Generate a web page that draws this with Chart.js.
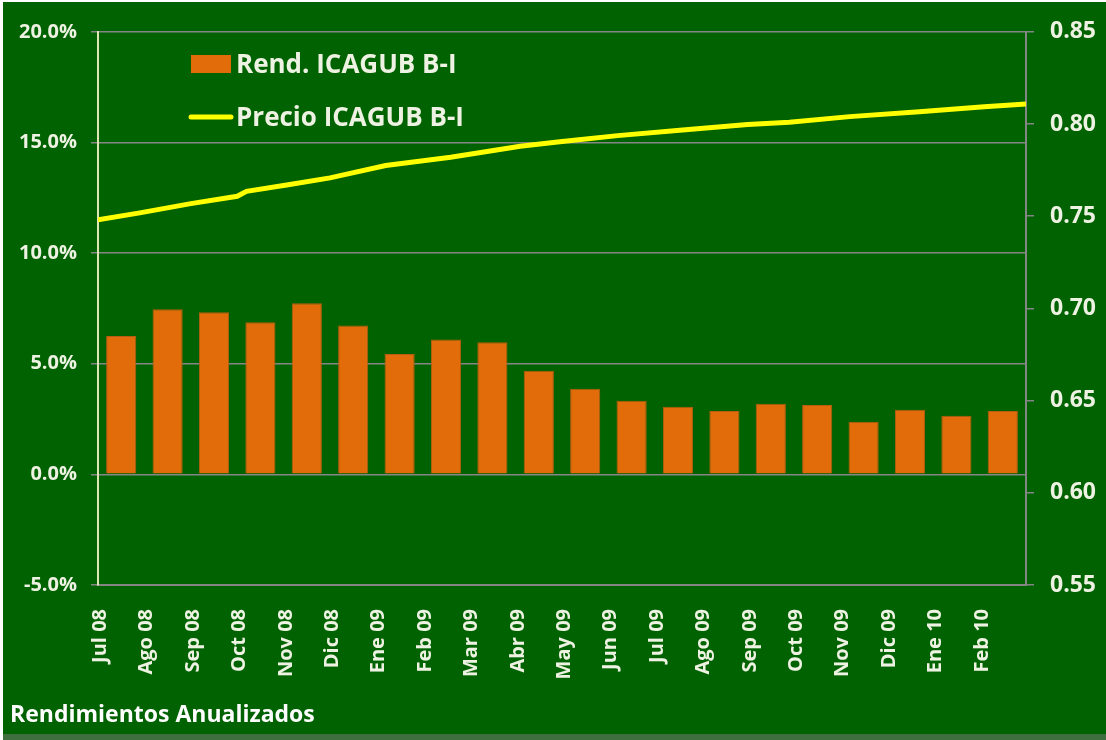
<!DOCTYPE html>
<html>
<head>
<meta charset="utf-8">
<script src="https://cdn.jsdelivr.net/npm/chart.js@4"></script>
<style>
  html, body { margin: 0; padding: 0; background: #ffffff; }
  #frame {
    position: absolute; left: 3px; top: 2px;
    width: 1103px; height: 732px;
    background: #006200;
  }
  #strip {
    position: absolute; left: 3px; top: 734px;
    width: 1103px; height: 6px;
    background: #3f6e3f;
  }
</style>
</head>
<body>
<div id="frame"><canvas id="chart"></canvas></div>
<div id="strip"></div>
<script>
const months = [
  "Jul 08", "Ago 08", "Sep 08", "Oct 08", "Nov 08", "Dic 08", "Ene 09",
  "Feb 09", "Mar 09", "Abr 09", "May 09", "Jun 09", "Jul 09", "Ago 09",
  "Sep 09", "Oct 09", "Nov 09", "Dic 09", "Ene 10", "Feb 10",
];
// annualized yield, %
const rendimiento = [
  6.25, 7.46, 7.33, 6.87, 7.73, 6.73, 5.44, 6.1, 5.97, 4.68,
  3.87, 3.33, 3.06, 2.86, 3.19, 3.13, 2.38, 2.92, 2.65, 2.86,
];
// price series, position in months from start of Jul 08
const precioX = [0, 0.9, 2.0, 3.0, 3.2, 4.1, 5.0, 6.2, 7.6, 9.1, 10.0, 11.2, 12.6, 14.0, 14.9, 16.2, 17.7, 19.1, 20];
const precioY = [
  0.748, 0.7518, 0.7568, 0.7608, 0.7635, 0.7671, 0.7708, 0.7775, 0.782, 0.7879,
  0.7905, 0.7937, 0.7967, 0.7997, 0.8009, 0.804, 0.8067, 0.8094, 0.8108,
];
const leftTicks = [-5, 0, 5, 10, 15, 20];
const rightTicks = [0.55, 0.6, 0.65, 0.7, 0.75, 0.8, 0.85];
const chartTitle = "Rendimientos Anualizados";

const FONT = "'Open Sans', 'DejaVu Sans', sans-serif";
const TEXT = "#eef2e2";
const GRID = "#858585";
const ORANGE = "#e36c0a";
const YELLOW = "#ffff00";

// legend inside the plot (two rows) and the caption at the bottom left
const insideLegend = {
  id: "insideLegend",
  afterDatasetsDraw(chart) {
    const ctx = chart.ctx;
    const ds = chart.data.datasets;
    ctx.save();
    ctx.font = `bold 26px ${FONT}`;
    ctx.textBaseline = "alphabetic";
    ctx.textAlign = "left";

    ctx.fillStyle = ds[0].backgroundColor;
    ctx.fillRect(188, 53, 40, 18);
    ctx.fillStyle = TEXT;
    ctx.fillText(ds[0].label, 233, 71);

    ctx.strokeStyle = ds[1].borderColor;
    ctx.lineWidth = 5;
    ctx.lineCap = "round";
    ctx.beginPath();
    ctx.moveTo(188, 115);
    ctx.lineTo(228, 115);
    ctx.stroke();
    ctx.fillText(ds[1].label, 233, 124);

    ctx.font = `bold 23px ${FONT}`;
    ctx.fillStyle = "#ffffff";
    ctx.fillText(chartTitle, 7, 720);
    ctx.restore();
  },
};

new Chart(document.getElementById("chart"), {
  data: {
    labels: months,
    datasets: [
      {
        type: "bar",
        label: "Rend. ICAGUB B-I",
        data: rendimiento,
        backgroundColor: ORANGE,
        borderColor: "#b85c12",
        borderWidth: 1,
        grouped: false,
        barPercentage: 0.65,
        categoryPercentage: 1,
        xAxisID: "x",
        yAxisID: "y",
        order: 2,
      },
      {
        type: "line",
        label: "Precio ICAGUB B-I",
        data: precioX.map((x, i) => ({ x: x, y: precioY[i] })),
        borderColor: YELLOW,
        borderWidth: 5,
        pointRadius: 0,
        tension: 0,
        xAxisID: "x2",
        yAxisID: "y2",
        order: 1,
      },
    ],
  },
  options: {
    responsive: true,
    maintainAspectRatio: false,
    animation: false,
    layout: { padding: { top: 27, left: 0, right: 0, bottom: 49 } },
    plugins: {
      legend: { display: false },
      tooltip: { enabled: false },
    },
    scales: {
      x: {
        type: "category",
        position: "bottom",
        offset: true,
        grid: { display: false, drawTicks: false },
        border: { display: true, color: GRID, width: 2 },
        ticks: {
          autoSkip: false,
          maxRotation: 90,
          minRotation: 90,
          labelOffset: -21,
          padding: 24,
          color: TEXT,
          font: { family: FONT, size: 20, weight: "bold" },
        },
        afterFit(scale) { scale.height = 100; },
      },
      x2: {
        type: "linear",
        display: false,
        min: 0,
        max: 20,
      },
      y: {
        position: "left",
        min: -5,
        max: 20,
        afterBuildTicks(scale) { scale.ticks = leftTicks.map((v) => ({ value: v })); },
        grid: { color: GRID, lineWidth: 1.5, tickLength: 7, tickColor: GRID },
        border: { color: "#dfe6b4", width: 2 },
        ticks: {
          padding: 14,
          color: TEXT,
          font: { family: FONT, size: 20, weight: "bold" },
          callback: (v) => v.toFixed(1) + "%",
        },
        afterFit(scale) { scale.width = 95; },
      },
      y2: {
        position: "right",
        min: 0.55,
        max: 0.85,
        afterBuildTicks(scale) { scale.ticks = rightTicks.map((v) => ({ value: v })); },
        grid: { drawOnChartArea: false, tickLength: 8, tickColor: GRID, lineWidth: 1.5 },
        border: { color: GRID, width: 2 },
        ticks: {
          padding: 16,
          color: TEXT,
          font: { family: FONT, size: 23, weight: "bold" },
          callback: (v) => v.toFixed(2),
        },
        afterFit(scale) { scale.width = 80; },
      },
    },
  },
  plugins: [insideLegend],
});
</script>
</body>
</html>
